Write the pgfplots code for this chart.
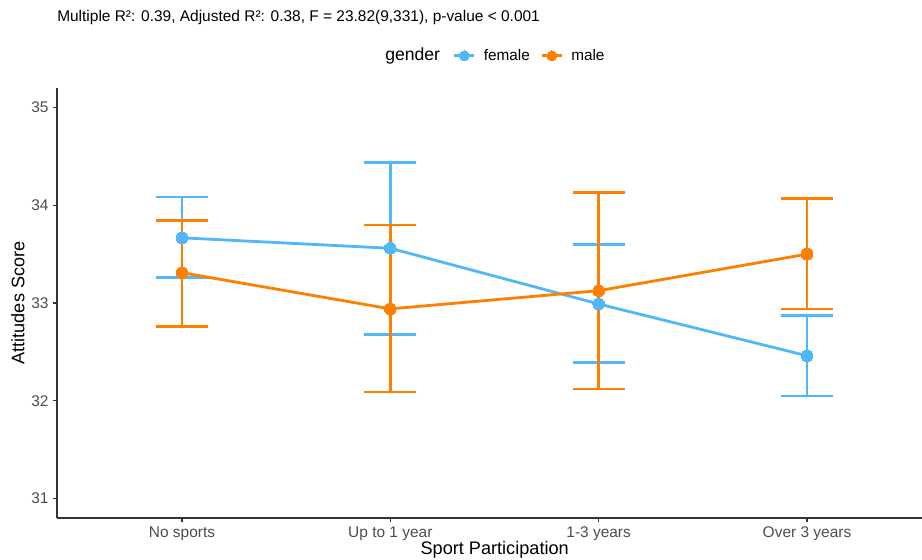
\documentclass[border=0pt]{standalone}
\usepackage{pgfplots}
\pgfplotsset{compat=1.18}
\usepackage{fontspec}
\setmainfont{Liberation Sans}
\definecolor{femc}{RGB}{82,183,248}
\definecolor{malec}{RGB}{255,127,0}
\definecolor{axgray}{RGB}{51,51,51}
\definecolor{lblgray}{RGB}{77,77,77}
\pgfplotstableread{
x y ep em
0 33.667 0.420 0.404
1 33.560 0.876 0.880
2 32.990 0.610 0.600
3 32.460 0.410 0.410
}\female
\pgfplotstableread{
x y ep em
0 33.310 0.534 0.550
1 32.940 0.860 0.853
2 33.126 1.002 1.008
3 33.500 0.567 0.560
}\male
\begin{document}
\begin{tikzpicture}
\useasboundingbox (-42.75pt,-31.5pt) rectangle (648.75pt,388.5pt);
\begin{axis}[
  at={(0pt,0pt)}, anchor=south west,
  scale only axis, width=648.75pt, height=322.5pt,
  xmin=-0.6, xmax=3.552, ymin=30.8, ymax=35.2,
  axis x line*=bottom, axis y line*=left,
  axis line style={-, draw=axgray, line width=0.8pt},
  xtick={0,1,2,3},
  xticklabels={No sports, Up to 1 year, 1-3 years, Over 3 years},
  ytick={31,32,33,34,35},
  tick align=outside, major tick length=2.8pt,
  tick style={draw=axgray, line width=0.8pt},
  minor tick num=0,
  tick label style={font=\fontsize{11.6}{13}\selectfont, text=lblgray},
  /pgf/number format/assume math mode=true,
  xlabel={Sport Participation},
  ylabel={Attitudes Score},
  label style={font=\fontsize{13.6}{16}\selectfont, text=black},
  xlabel style={at={(axis description cs:0.506,-0.0744)}, anchor=center},
  ylabel style={at={(axis description cs:-0.0451,0.5)}, anchor=center, rotate=0},
  clip=false,
  legend columns=-1,
  legend style={draw=none, fill=none, inner sep=0pt, outer sep=0pt,
    at={(axis description cs:0.4578,1.075)}, anchor=west,
    font=\fontsize{11.5}{13}\selectfont,
    /tikz/every odd column/.append style={column sep=4pt},
    /tikz/every even column/.append style={column sep=6pt}},
  legend image code/.code={
    \draw[#1, mark repeat=2, mark phase=2, mark size=3.7pt] plot coordinates {(0pt,0pt) (7.5pt,0pt) (15pt,0pt)};
  },
]
\addplot[color=femc, line width=2.1pt, mark=*, mark size=4.4pt,
  mark options={solid, fill=femc, draw=femc, line width=0pt},
  error bars/.cd, y dir=both, y explicit,
  error bar style={femc, line width=1.9pt},
  error mark=-, error mark options={rotate=90, femc, mark size=19.5pt, line width=1.9pt}]
  table[x=x, y=y, y error plus=ep, y error minus=em] {\female};
\addlegendentry{female}
\addplot[color=malec, line width=2.1pt, mark=*, mark size=4.4pt,
  mark options={solid, fill=malec, draw=malec, line width=0pt},
  error bars/.cd, y dir=both, y explicit,
  error bar style={malec, line width=1.9pt},
  error mark=-, error mark options={rotate=90, malec, mark size=19.5pt, line width=1.9pt}]
  table[x=x, y=y, y error plus=ep, y error minus=em] {\male};
\addlegendentry{male}
\end{axis}
\node[anchor=west, inner sep=0pt, font=\fontsize{11.6}{13}\selectfont] at (0pt,375pt)
  {Multiple R²: 0.39, Adjusted R²: 0.38, F = 23.82(9,331), p-value < 0.001};
\node[anchor=west, inner sep=0pt, font=\fontsize{13.2}{15}\selectfont] at (246pt,346.7pt) {gender};
\end{tikzpicture}
\end{document}
